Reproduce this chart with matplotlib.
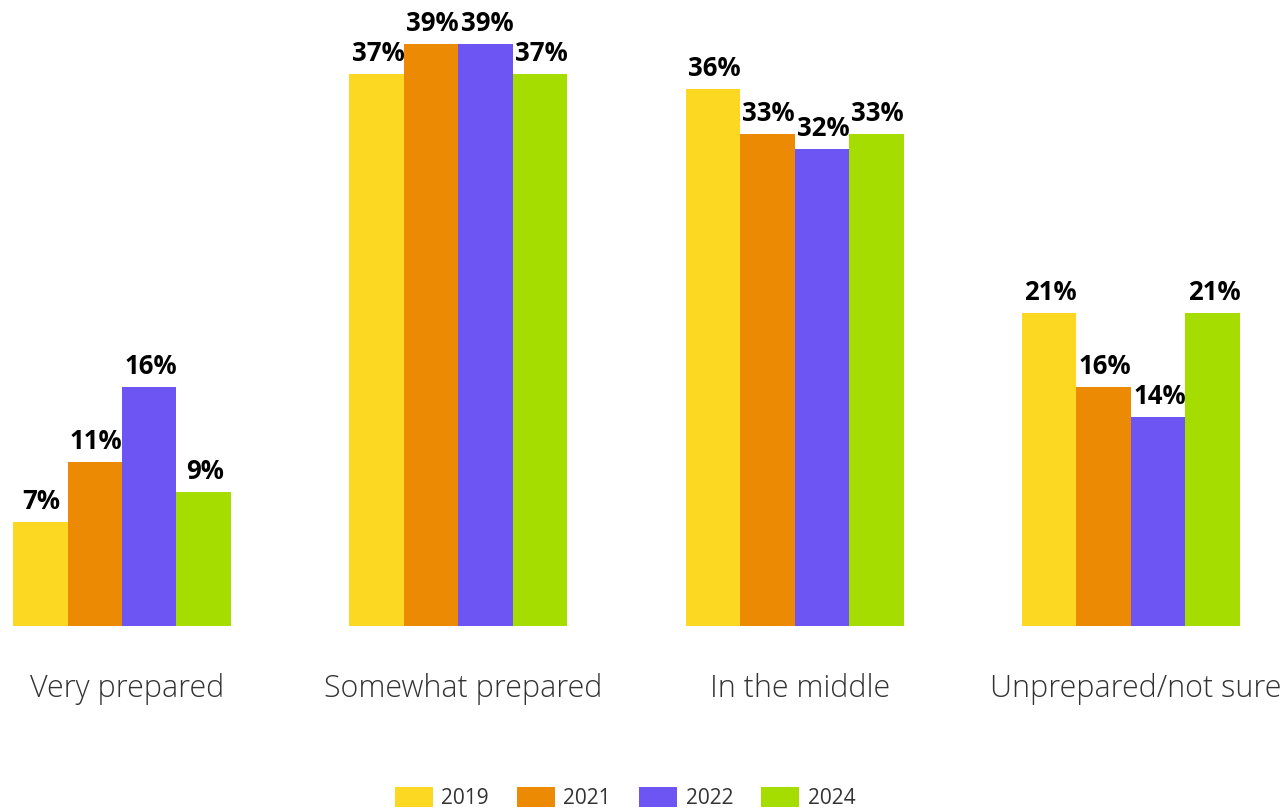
import matplotlib
matplotlib.use("Agg")
import matplotlib.pyplot as plt
from matplotlib.patches import Patch
import numpy as np

categories = ["Very prepared", "Somewhat prepared", "In the middle", "Unprepared/not sure"]
years = ["2019", "2021", "2022", "2024"]
values = {
    "2019": [7, 37, 36, 21],
    "2021": [11, 39, 33, 16],
    "2022": [16, 39, 32, 14],
    "2024": [9, 37, 33, 21],
}
colors = ["#FCD822", "#EC8A04", "#6C55F2", "#A6DD00"]

plt.rcParams['font.family'] = ['Open Sans', 'DejaVu Sans']

fig = plt.figure(figsize=(12.87, 8.10), dpi=100)
ax = fig.add_axes([0, 0.2272, 1, 0.7367])

x = np.arange(len(categories))
w = 0.162
for i, (yr, c) in enumerate(zip(years, colors)):
    offs = (i - 1.5) * w
    bars = ax.bar(x + offs, values[yr], width=w, color=c, linewidth=0)
    for b, v in zip(bars, values[yr]):
        ax.annotate(f"{v}%", (b.get_x() + b.get_width() / 2, v), xytext=(1, 5),
                    textcoords="offset points", ha="center", va="bottom",
                    fontsize=18.5, fontweight="bold", color="#000000")

ax.set_xlim(-0.3628, 3.464)
ax.set_ylim(0, 40)
ax.axis("off")

for xi, cat in zip(x, categories):
    fig.text((xi + 0.3628) / (3.464 + 0.3628) + 5 / 1287, 1 - 689 / 810, cat,
             ha="center", va="center",
             fontsize=22, fontweight="light", color="#333333")

handles = [Patch(facecolor=c, edgecolor="none") for c in colors]
fig.legend(handles, years, loc="center", bbox_to_anchor=(625 / 1287, 1 - 798 / 810),
           ncol=4, frameon=False, fontsize=15, handlelength=1.83, handleheight=1.1,
           handletextpad=0.4, columnspacing=1.35, labelcolor="#333333")

fig.savefig("out.png", dpi=100)
